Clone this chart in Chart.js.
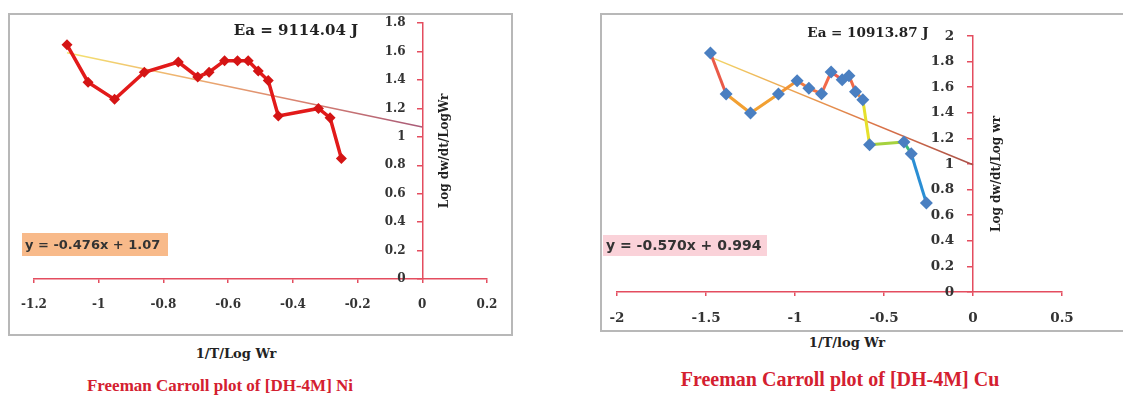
<!DOCTYPE html>
<html>
<head>
<meta charset="utf-8">
<script src="https://cdn.jsdelivr.net/npm/chart.js@4.4.1/dist/chart.umd.min.js"></script>
<style>
  body { margin:0; background:#fff; width:1123px; height:399px; overflow:hidden; position:relative; }
  .frame { position:absolute; border:2px solid #b8b8b8; box-sizing:border-box; }
  canvas { position:absolute; }
  .lbl { position:absolute; transform:translate(-50%,-50%); white-space:nowrap; font-weight:bold; font-family:"DejaVu Serif", serif; }
</style>
</head>
<body>
<div class="frame" style="left:8px;top:13px;width:505px;height:323px"></div>
<div class="frame" style="left:600px;top:13px;width:530px;height:319px"></div>
<canvas id="niChart" width="505" height="322" style="left:8px;top:13px"></canvas>
<canvas id="cuChart" width="523" height="318" style="left:600px;top:13px"></canvas>
<div class="lbl" style="left:236px;top:353px;font-size:13px;color:#222">1/T/Log Wr</div>
<div class="lbl" style="left:847px;top:342px;font-size:13px;color:#222">1/T/log Wr</div>
<div class="lbl" style="left:220px;top:386px;font-size:17px;color:#d42030;font-family:'Liberation Serif', serif">Freeman Carroll plot of [DH-4M] Ni</div>
<div class="lbl" style="left:840px;top:379px;font-size:20px;color:#d42030;font-family:'Liberation Serif', serif">Freeman Carroll plot of [DH-4M] Cu</div>
<script>
// Ni complex: 1/T/Log Wr vs Log dw/dt/Log Wr
const niX = [-1.098, -1.033, -0.951, -0.859, -0.754, -0.694, -0.659, -0.611, -0.571, -0.538, -0.507, -0.476, -0.445, -0.321, -0.285, -0.250];
const niY = [1.648, 1.385, 1.264, 1.455, 1.527, 1.422, 1.455, 1.536, 1.536, 1.536, 1.464, 1.396, 1.147, 1.200, 1.135, 0.848];
const niFit = [-0.476, 1.07];   // slope, intercept
// Cu complex
const cuX = [-1.475, -1.387, -1.250, -1.093, -0.988, -0.922, -0.851, -0.797, -0.735, -0.697, -0.660, -0.619, -0.581, -0.388, -0.347, -0.262];
const cuY = [1.867, 1.547, 1.398, 1.547, 1.651, 1.591, 1.549, 1.719, 1.659, 1.690, 1.565, 1.502, 1.151, 1.172, 1.080, 0.695];
const cuFit = [-0.570, 0.994];

// segment colours of the Cu line (red -> orange -> yellow -> green -> blue)
const cuSegColors = ['#ea5a48', '#f2a032', '#f2a032', '#f29434', '#f27a40', '#f27444', '#f26a4a', '#f0604e', '#f0604e',
  '#f06a48', '#f08a3e', '#e6e02c', '#a6d23e', '#3cbc78', '#2a8ed4'];

const AXIS = '#e44d5f';

function pts(xs, ys) { return xs.map((x, i) => ({x: x, y: ys[i]})); }
function fitLine(xs, fit) { return [xs[0], 0].map(x => ({x: x, y: fit[0] * x + fit[1]})); }

function trendGradient(stops, x0) {
  return function(ctx) {
    const chart = ctx.chart;
    if (!chart.chartArea) return stops[1];
    const xs = chart.scales.x;
    const g = chart.ctx.createLinearGradient(xs.getPixelForValue(x0), 0, xs.getPixelForValue(0), 0);
    stops.forEach((s, i) => g.addColorStop(i / (stops.length - 1), s));
    return g;
  };
}

const notes = {
  id: 'notes',
  afterDraw(chart, args, o) {
    const c = chart.ctx;
    c.save();
    c.textBaseline = 'middle';
    // equation box
    c.fillStyle = o.boxFill;
    c.fillRect(o.box[0], o.box[1], o.box[2], o.box[3]);
    c.fillStyle = '#333';
    c.textAlign = 'left';
    c.font = 'bold ' + o.eqSize + 'px "DejaVu Sans"';
    c.fillText(o.eq, o.box[0] + 3, o.box[1] + o.box[3] / 2 + 1);
    // activation energy
    c.fillStyle = '#222';
    c.textAlign = 'center';
    c.font = 'bold ' + o.eaSize + 'px "DejaVu Serif"';
    c.fillText(o.ea, o.eaPos[0], o.eaPos[1]);
    // y axis title
    c.translate(o.yTitlePos[0], o.yTitlePos[1]);
    c.rotate(-Math.PI / 2);
    c.font = 'bold 12px "DejaVu Serif"';
    c.fillText(o.yTitle, 0, 0);
    c.restore();
  }
};

function axes(xmin, xmax, xstep, ymax, fontSize, xPad) {
  const tickFont = {family: 'DejaVu Serif', weight: 'bold', size: fontSize};
  return {
    x: {
      type: 'linear', min: xmin, max: xmax,
      // plot area comes from layout padding only
      afterFit: s => { s.height = 30; s.paddingLeft = 0; s.paddingRight = 0; },
      ticks: {stepSize: xstep, color: '#333', font: tickFont, padding: xPad, maxRotation: 0,
        callback: v => String(Math.round(v * 10) / 10)},
      grid: {drawOnChartArea: false, color: AXIS, tickLength: 4, lineWidth: 1.5},
      border: {color: AXIS, width: 1.5}
    },
    y: {
      type: 'linear', min: 0, max: ymax, position: {x: 0},
      afterFit: s => { s.width = 0; },
      // labels sit left of the crossing axis; trailing spaces keep them off the tick marks
      ticks: {stepSize: 0.2, color: '#333', font: tickFont,
        callback: v => String(Math.round(v * 10) / 10) + '    '},
      grid: {drawOnChartArea: false, color: AXIS, tickLength: 5, lineWidth: 1.5},
      border: {color: AXIS, width: 1.5}
    }
  };
}

new Chart(document.getElementById('niChart'), {
  type: 'line',
  data: {
    datasets: [
      {
        data: pts(niX, niY), order: 0,
        borderColor: '#e21a1a', borderWidth: 3.5,
        pointStyle: 'rectRot', pointRadius: 5.5, pointBackgroundColor: '#d41414', pointBorderWidth: 0
      },
      {
        data: fitLine(niX, niFit), order: 1,
        borderColor: trendGradient(['#f4e470', '#eeb070', '#d88070', '#a85a78'], niX[0]),
        borderWidth: 1.5, pointRadius: 0
      }
    ]
  },
  options: {
    responsive: false, animation: false, devicePixelRatio: 1,
    layout: {padding: {left: 26, right: 26, top: 9, bottom: 26}},
    scales: axes(-1.2, 0.2, 0.2, 1.8, 12, 15),
    plugins: {
      legend: {display: false}, tooltip: {enabled: false},
      notes: {
        ea: 'Ea = 9114.04 J', eaSize: 15, eaPos: [288, 18],
        yTitle: 'Log dw/dt/LogWr', yTitlePos: [437, 138],
        eq: 'y = -0.476x + 1.07', eqSize: 13, box: [14, 220, 146, 23], boxFill: '#f8ba8a'
      }
    }
  },
  plugins: [notes]
});

new Chart(document.getElementById('cuChart'), {
  type: 'line',
  data: {
    datasets: [
      {
        data: pts(cuX, cuY), order: 0,
        borderWidth: 3,
        segment: {borderColor: ctx => cuSegColors[ctx.p0DataIndex]},
        borderColor: '#f2a032',
        pointStyle: 'rectRot', pointRadius: 6.5, pointBackgroundColor: '#4a7fc1', pointBorderWidth: 0
      },
      {
        data: fitLine(cuX, cuFit), order: 1,
        borderColor: trendGradient(['#f2d868', '#eca050', '#d87048', '#a85048'], cuX[0]),
        borderWidth: 1.5, pointRadius: 0
      }
    ]
  },
  options: {
    responsive: false, animation: false, devicePixelRatio: 1,
    layout: {padding: {left: 17, right: 61, top: 23, bottom: 9}},
    scales: axes(-2, 0.5, 0.5, 2, 13.5, 14),
    plugins: {
      legend: {display: false}, tooltip: {enabled: false},
      notes: {
        ea: 'Ea = 10913.87 J', eaSize: 13.5, eaPos: [268, 20],
        yTitle: 'Log dw/dt/Log wr', yTitlePos: [397, 161],
        eq: 'y = -0.570x + 0.994', eqSize: 14, box: [3, 222, 164, 21], boxFill: '#fad2d9'
      }
    }
  },
  plugins: [notes]
});
</script>
</body>
</html>
